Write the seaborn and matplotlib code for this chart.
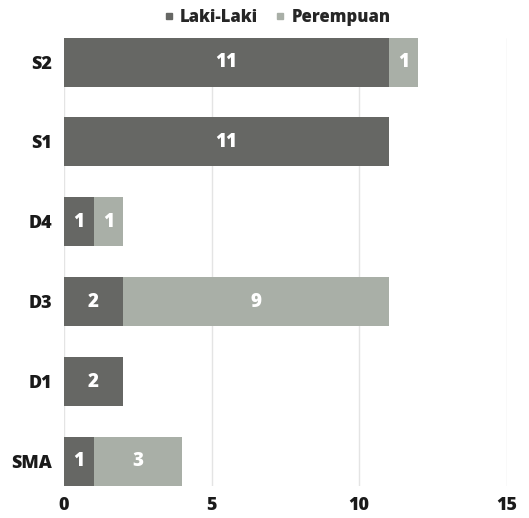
import matplotlib
matplotlib.use("Agg")
import matplotlib.pyplot as plt
import seaborn as sns
import pandas as pd
from matplotlib.lines import Line2D

categories = ["S2", "S1", "D4", "D3", "D1", "SMA"]
laki_laki = [11, 11, 1, 2, 2, 1]
perempuan = [1, 0, 1, 9, 0, 3]
x_ticks = [0, 5, 10, 15]

dark = "#666764"
light = "#a9afa7"

sns.set_theme(style="white")
plt.rcParams["font.family"] = ["Open Sans", "DejaVu Sans"]

df = pd.DataFrame({
    "kategori": categories,
    "Laki-Laki": laki_laki,
    "Perempuan": perempuan,
})
df["total"] = df["Laki-Laki"] + df["Perempuan"]

fig = plt.figure(figsize=(5.29, 5.18), dpi=100)
ax = fig.add_axes([0.121, 0.0618, 0.8365, 0.8658])

bar_w = 0.614
sns.barplot(data=df, x="total", y="kategori", color=light, width=bar_w,
            saturation=1, ax=ax, orient="h", zorder=2, linewidth=0)
sns.barplot(data=df, x="Laki-Laki", y="kategori", color=dark, width=bar_w,
            saturation=1, ax=ax, orient="h", zorder=3, linewidth=0)

for i, (l, p) in enumerate(zip(laki_laki, perempuan)):
    if l:
        ax.text(l / 2, i, str(l), ha="center", va="center", color="white",
                fontsize=13.5, fontweight="heavy", zorder=5)
    if p:
        ax.text(l + p / 2, i, str(p), ha="center", va="center", color="white",
                fontsize=13.5, fontweight="heavy", zorder=5)

ax.set_xlim(0, 15)
ax.set_ylim(len(categories) - 1 + bar_w / 2, -bar_w / 2)
ax.set_xticks(x_ticks)
ax.set_xticklabels([str(t) for t in x_ticks])
ax.set_xlabel("")
ax.set_ylabel("")
ax.grid(axis="x", color="#e4e4e4", linewidth=1, zorder=0)
ax.set_axisbelow(True)
for s in ax.spines.values():
    s.set_visible(False)
ax.tick_params(axis="both", length=0, labelsize=13, labelcolor="#1a1a1a")
ax.tick_params(axis="y", pad=8.5)
ax.tick_params(axis="x", pad=8)
for lbl in ax.get_xticklabels() + ax.get_yticklabels():
    lbl.set_fontweight("heavy")

handles = [
    Line2D([], [], marker="s", linestyle="", markersize=5, color=dark),
    Line2D([], [], marker="s", linestyle="", markersize=5, color=light),
]
fig.legend(handles, ["Laki-Laki", "Perempuan"], loc="upper center",
           bbox_to_anchor=(0.524, 1.012), ncol=2, frameon=False,
           handlelength=0.6, handletextpad=0.4, columnspacing=1.0,
           prop={"weight": "heavy", "size": 12})

fig.savefig("out.png", dpi=100)
